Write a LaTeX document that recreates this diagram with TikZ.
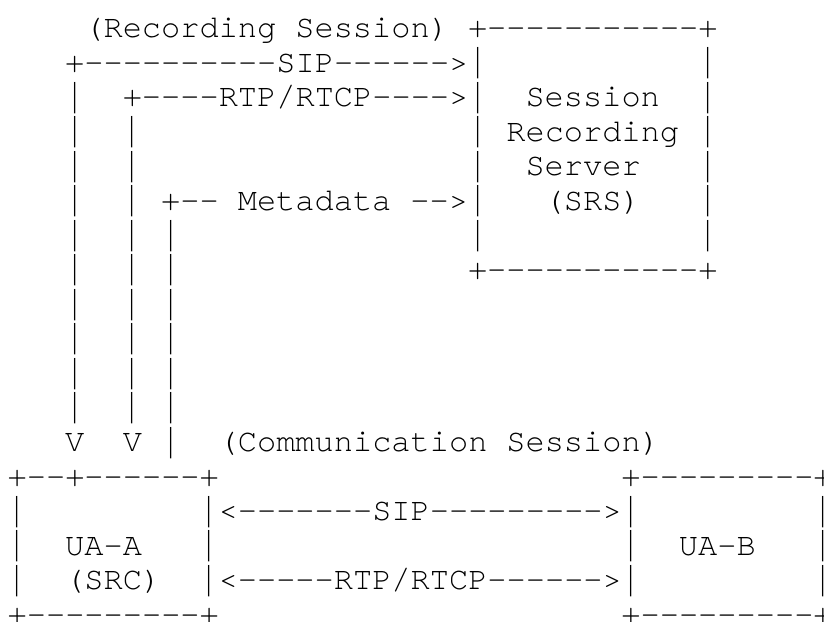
\documentclass[tikz,border=0pt]{standalone}
\usepackage{fontspec}
\usepackage{graphicx}
\setmonofont[Extension=.otf]{texgyrecursor-regular}
\newcommand{\tbar}{\raisebox{-7.2pt}{\resizebox*{\width}{31.4pt}{\raisebox{\depth}{|}}}}
\newcommand{\seg}[4]{\node[seg] (#1) at (#2+0.4,#3+1.087) {#4};}
\begin{document}
\begin{tikzpicture}[x=19.18pt,y=-34.5pt,
  seg/.style={anchor=base west,inner sep=0pt,outer sep=0pt,
    font=\ttfamily\fontsize{32.0pt}{34.5pt}\selectfont,text=black}]
\fill[white] (0,0) rectangle (42.961,18);
\useasboundingbox (0,0) rectangle (42.961,18);
% row 0
\seg{rs1}{4}{0}{(Recording}
\seg{rs2}{15}{0}{Session)}
\seg{srstop}{24}{0}{+-----------+}
% row 1
\seg{sipup}{3}{1}{+----------SIP------>\tbar}
\seg{r1r}{36}{1}{\tbar}
% row 2
\seg{r2a}{3}{2}{\tbar}
\seg{rtpup}{6}{2}{+----RTP/RTCP---->\tbar}
\seg{srs1}{27}{2}{Session}
\seg{r2r}{36}{2}{\tbar}
% row 3
\seg{r3a}{3}{3}{\tbar}
\seg{r3b}{6}{3}{\tbar}
\seg{r3l}{24}{3}{\tbar}
\seg{srs2}{26}{3}{Recording}
\seg{r3r}{36}{3}{\tbar}
% row 4
\seg{r4a}{3}{4}{\tbar}
\seg{r4b}{6}{4}{\tbar}
\seg{r4l}{24}{4}{\tbar}
\seg{srs3}{27}{4}{Server}
\seg{r4r}{36}{4}{\tbar}
% row 5
\seg{r5a}{3}{5}{\tbar}
\seg{r5b}{6}{5}{\tbar}
\seg{md1}{8}{5}{+--}
\seg{md2}{12}{5}{Metadata}
\seg{md3}{21}{5}{-->\tbar}
\seg{srs4}{28}{5}{(SRS)}
\seg{r5r}{36}{5}{\tbar}
% row 6
\seg{r6a}{3}{6}{\tbar}
\seg{r6b}{6}{6}{\tbar}
\seg{r6c}{8}{6}{\tbar}
\seg{r6l}{24}{6}{\tbar}
\seg{r6r}{36}{6}{\tbar}
% row 7
\seg{r7a}{3}{7}{\tbar}
\seg{r7b}{6}{7}{\tbar}
\seg{r7c}{8}{7}{\tbar}
\seg{srsbot}{24}{7}{+-----------+}
% rows 8-11
\foreach \k in {8,9,10,11}{
  \seg{va\k}{3}{\k}{\tbar}
  \seg{vb\k}{6}{\k}{\tbar}
  \seg{vc\k}{8}{\k}{\tbar}
}
% row 12
\seg{arra}{3}{12}{V}
\seg{arrb}{6}{12}{V}
\seg{r12c}{8}{12}{\tbar}
\seg{cs1}{11}{12}{(Communication}
\seg{cs2}{26}{12}{Session)}
% row 13
\seg{uaatop}{0}{13}{+--+------+}
\seg{uabtop}{32}{13}{+---------+}
% row 14
\seg{r14a}{0}{14}{\tbar}
\seg{sipab}{10}{14}{\tbar<-------SIP--------->\tbar}
\seg{r14r}{42}{14}{\tbar}
% row 15
\seg{r15a}{0}{15}{\tbar}
\seg{uaa}{3}{15}{UA-A}
\seg{r15b}{10}{15}{\tbar}
\seg{r15c}{32}{15}{\tbar}
\seg{uab}{35}{15}{UA-B}
\seg{r15r}{42}{15}{\tbar}
% row 16
\seg{r16a}{0}{16}{\tbar}
\seg{src}{3}{16}{(SRC)}
\seg{rtpab}{10}{16}{\tbar<-----RTP/RTCP------>\tbar}
\seg{r16r}{42}{16}{\tbar}
% row 17
\seg{uaabot}{0}{17}{+---------+}
\seg{uabbot}{32}{17}{+---------+}
\end{tikzpicture}
\end{document}
